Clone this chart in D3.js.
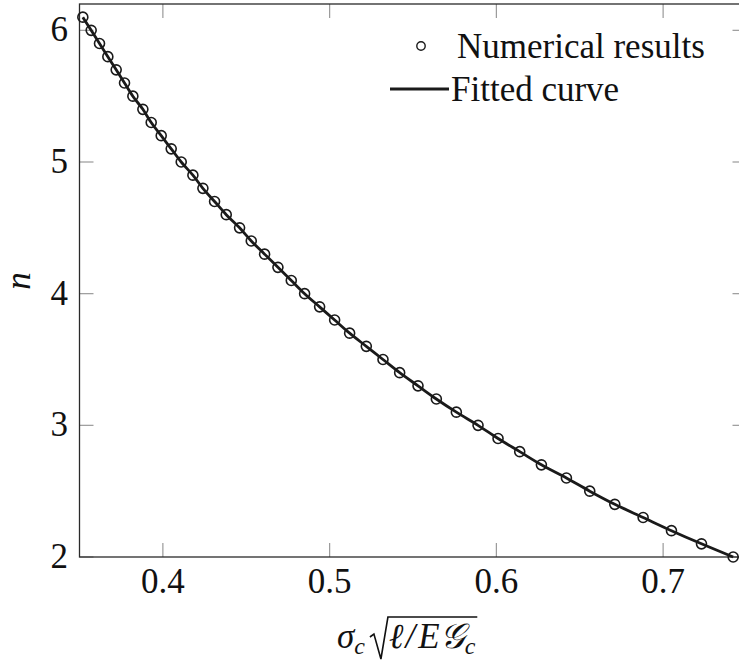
<!DOCTYPE html>
<html>
<head>
<meta charset="utf-8">
<script src="https://cdn.jsdelivr.net/npm/d3@7"></script>
<style>
  body { margin: 0; background: #fff; }
  text { font-family: "Liberation Serif", "DejaVu Serif", serif; fill: #111; }
</style>
</head>
<body>
<div id="chart"></div>
<script>
// data: n goes 6.1 -> 2.0, x is sigma_c sqrt(l/EGc)
const nValues = [6.1, 6.0, 5.9, 5.8, 5.7, 5.6, 5.5, 5.4, 5.3, 5.2, 5.1, 5.0, 4.9, 4.8,
  4.7, 4.6, 4.5, 4.4, 4.3, 4.2, 4.1, 4.0, 3.9, 3.8, 3.7, 3.6, 3.5, 3.4,
  3.3, 3.2, 3.1, 3.0, 2.9, 2.8, 2.7, 2.6, 2.5, 2.4, 2.3, 2.2, 2.1, 2.0]
const xValues = [0.352, 0.357, 0.362, 0.367, 0.372, 0.377, 0.382, 0.388, 0.393, 0.399, 0.405, 0.411, 0.418, 0.424,
  0.431, 0.438, 0.446, 0.453, 0.461, 0.469, 0.477, 0.485, 0.494, 0.503, 0.512, 0.522, 0.532, 0.542,
  0.553, 0.564, 0.576, 0.589, 0.601, 0.614, 0.627, 0.642, 0.656, 0.671, 0.688, 0.705, 0.723, 0.742]
const xTicks = [0.4, 0.5, 0.6, 0.7]
const yTicks = [2, 3, 4, 5, 6]
const legendLabels = ["Numerical results", "Fitted curve"]

const points = nValues.map((n, i) => ({ x: xValues[i], n: n }))

const dimensions = { width: 739, height: 664 }
const plot = { left: 79.5, right: 746.5, top: 4, bottom: 557 }

const xScale = d3.scaleLinear().domain([0.35, 0.75]).range([plot.left, plot.right])
const yScale = d3.scaleLinear().domain([2, 6.2]).range([plot.bottom, plot.top])

const svg = d3.select("#chart").append("svg")
  .attr("width", dimensions.width)
  .attr("height", dimensions.height)

const tickLen = 14
const tickColor = "#9a9a9a"

// inner ticks on all four sides
const tickGroup = svg.append("g").attr("stroke", tickColor).attr("stroke-width", 1.2)
xTicks.forEach(t => {
  tickGroup.append("line").attr("x1", xScale(t)).attr("x2", xScale(t))
    .attr("y1", plot.bottom).attr("y2", plot.bottom - tickLen)
  tickGroup.append("line").attr("x1", xScale(t)).attr("x2", xScale(t))
    .attr("y1", plot.top).attr("y2", plot.top + tickLen)
})
yTicks.forEach(t => {
  tickGroup.append("line").attr("y1", yScale(t)).attr("y2", yScale(t))
    .attr("x1", plot.left).attr("x2", plot.left + tickLen)
  tickGroup.append("line").attr("y1", yScale(t)).attr("y2", yScale(t))
    .attr("x1", plot.right).attr("x2", plot.right - tickLen)
})

// frame
svg.append("rect")
  .attr("x", plot.left).attr("y", plot.top)
  .attr("width", plot.right - plot.left).attr("height", plot.bottom - plot.top)
  .attr("fill", "none").attr("stroke", "#2a2a2a").attr("stroke-width", 1.3)

// tick labels
const labelSize = 35
svg.append("g").selectAll("text")
  .data(xTicks)
  .join("text")
    .attr("x", d => xScale(d))
    .attr("y", 593)
    .attr("text-anchor", "middle")
    .attr("font-size", labelSize)
    .text(d => d3.format(".1f")(d))

svg.append("g").selectAll("text")
  .data(yTicks)
  .join("text")
    .attr("x", 68)
    .attr("y", d => yScale(d) + 11)
    .attr("text-anchor", "end")
    .attr("font-size", labelSize)
    .text(d => d)

// markers then the fitted line on top
svg.append("g").selectAll("circle")
  .data(points)
  .join("circle")
    .attr("cx", d => xScale(d.x))
    .attr("cy", d => yScale(d.n))
    .attr("r", 5)
    .attr("fill", "none")
    .attr("stroke", "#1a1a1a")
    .attr("stroke-width", 1.6)

const line = d3.line()
  .x(d => xScale(d.x))
  .y(d => yScale(d.n))
  .curve(d3.curveMonotoneX)

svg.append("path")
  .datum(points.slice().reverse())
  .attr("d", line)
  .attr("fill", "none")
  .attr("stroke", "#1a1a1a")
  .attr("stroke-width", 2.8)

// legend
const legend = svg.append("g")
legend.append("circle")
  .attr("cx", 421).attr("cy", 46).attr("r", 4.2)
  .attr("fill", "none").attr("stroke", "#1a1a1a").attr("stroke-width", 1.4)
legend.append("text")
  .attr("x", 457).attr("y", 58)
  .attr("font-size", labelSize)
  .text(legendLabels[0])
legend.append("line")
  .attr("x1", 390).attr("x2", 449).attr("y1", 89).attr("y2", 89)
  .attr("stroke", "#1a1a1a").attr("stroke-width", 2.8)
legend.append("text")
  .attr("x", 451).attr("y", 101)
  .attr("font-size", labelSize)
  .text(legendLabels[1])

// y axis label
svg.append("text")
  .attr("transform", "translate(30,281) rotate(-90)")
  .attr("text-anchor", "middle")
  .attr("font-size", labelSize)
  .attr("font-style", "italic")
  .text("n")

// x axis label: sigma_c sqrt(l / E G_c)
const base = 648
const xl = svg.append("g")
const sig = xl.append("text")
  .attr("x", 337).attr("y", base)
  .attr("font-size", labelSize).attr("font-style", "italic")
sig.append("tspan").text("σ")
sig.append("tspan").attr("font-size", 24).attr("dy", 6).text("c")
const sigEnd = 337 + sig.node().getComputedTextLength()

const r0 = sigEnd + 5
const inner = xl.append("text")
  .attr("x", r0 + 19).attr("y", base)
  .attr("font-size", labelSize).attr("font-style", "italic")
inner.append("tspan").text("ℓ")
inner.append("tspan").attr("dx", 2).text("/")
inner.append("tspan").attr("dx", 3).text("E𝒢")
inner.append("tspan").attr("font-size", 24).attr("dy", 6).text("c")
const innerEnd = r0 + 19 + inner.node().getComputedTextLength() + 7

xl.append("path")
  .attr("d", `M${r0},${base - 11} L${r0 + 4},${base - 14} L${r0 + 11},${base + 11} L${r0 + 18},${617} L${innerEnd},${617}`)
  .attr("fill", "none").attr("stroke", "#111").attr("stroke-width", 1.6)
  .attr("stroke-linejoin", "miter")
</script>
</body>
</html>
